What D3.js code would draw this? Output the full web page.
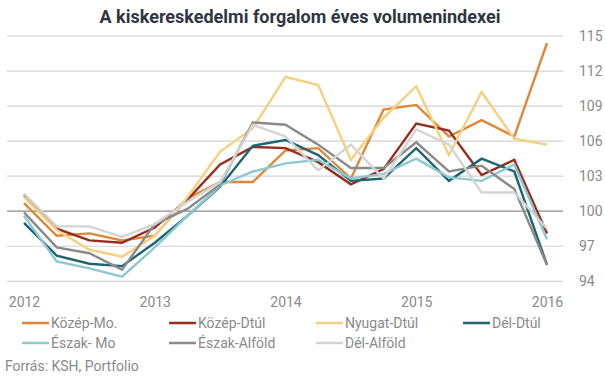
<!DOCTYPE html>
<html><head><meta charset="utf-8">
<script src="https://cdn.jsdelivr.net/npm/d3@7"></script>
<style>
body{margin:0;background:#fff;}
svg text{font-family:Roboto,"Noto Sans",sans-serif;}
</style></head>
<body><svg id="c" width="605" height="378"></svg>
<script>
const periods = ["2012Q1","2012Q2","2012Q3","2012Q4","2013Q1","2013Q2","2013Q3","2013Q4","2014Q1","2014Q2","2014Q3","2014Q4","2015Q1","2015Q2","2015Q3","2015Q4","2016Q1"];
const yearLabels = ["2012","2013","2014","2015","2016"];
const yTicks = [94,97,100,103,106,109,112,115];
const seriesNames = ["Közép-Mo.","Közép-Dtúl","Nyugat-Dtúl","Dél-Dtúl","Észak- Mo","Észak-Alföld","Dél-Alföld"];
const seriesColors = ["#e0883a","#962d1f","#f6d081","#1f6571","#8ec8d1","#8a8a8a","#d4d4d4"];
const kozepMo    = [100.7,97.9,98.1,97.5,97.9,101.1,102.5,102.5,105.2,105.4,102.8,108.7,109.1,106.4,107.8,106.4,114.4];
const kozepDtul  = [101.4,98.5,97.5,97.3,98.6,101.0,104.0,105.5,105.4,104.2,102.3,103.6,107.5,106.9,103.1,104.4,98.1];
const nyugatDtul = [101.2,98.4,96.7,96.1,97.9,101.2,105.1,107.1,111.5,110.8,104.4,108.0,110.7,104.8,110.2,106.2,105.7];
const delDtul    = [99.0,96.2,95.5,95.3,97.3,99.6,102.1,105.6,106.1,104.8,102.6,102.8,105.4,102.6,104.5,103.4,95.4];
const eszakMo    = [99.6,95.7,95.1,94.4,96.9,99.6,102.2,103.4,104.1,104.4,102.8,103.2,104.5,102.9,102.6,104.0,97.6];
const eszakAlfold= [99.9,96.9,96.4,95.0,98.9,100.2,102.3,107.6,107.4,105.7,103.7,103.7,105.9,103.4,103.9,101.9,95.4];
const delAlfold  = [101.5,98.7,98.7,97.8,98.9,100.8,102.5,107.4,106.4,103.5,105.7,102.8,107.0,105.7,101.6,101.6,98.5];
const seriesValues = [kozepMo,kozepDtul,nyugatDtul,delDtul,eszakMo,eszakAlfold,delAlfold];

const svg = d3.select("#c");
const x = d3.scalePoint().domain(periods).range([24,547]);
const y = d3.scaleLinear().domain([94,115]).range([281.3,36]);

svg.append("text").attr("x",300).attr("y",23).attr("text-anchor","middle")
  .attr("font-size",18).attr("font-weight",700).attr("fill","#2f3541")
  .text("A kiskereskedelmi forgalom éves volumenindexei");

// grid
svg.append("g").selectAll("line").data(yTicks).join("line")
  .attr("x1",7).attr("x2",563).attr("y1",d=>y(d)).attr("y2",d=>y(d))
  .attr("stroke",d=>d===100?"#8a8a8a":"#d2d2d2").attr("stroke-width",1.2);

// y axis on right
const yAxis = d3.axisRight(y).tickValues(yTicks).tickSize(0).tickPadding(0);
const gy = svg.append("g").attr("transform","translate(579,0)").call(yAxis);
gy.select(".domain").remove();
gy.selectAll("text").attr("font-size",14).attr("fill","#8a8a8a").attr("font-family","Roboto");

// x axis
const yearTickPeriods = yearLabels.map(yl=>yl+"Q1");
const xAxis = d3.axisBottom(x).tickValues(yearTickPeriods).tickSize(0).tickPadding(0).tickFormat(d=>d.slice(0,4));
const gx = svg.append("g").attr("transform","translate(0,297)").call(xAxis);
gx.select(".domain").remove();
gx.selectAll("text").attr("font-size",14).attr("fill","#8a8a8a").attr("font-family","Roboto");

// lines
const line = d3.line().x((d,i)=>x(periods[i])).y(d=>y(d));
svg.append("g").selectAll("path").data(seriesValues).join("path")
  .attr("d",line).attr("fill","none")
  .attr("stroke",(d,i)=>seriesColors[i]).attr("stroke-width",2.4)
  .attr("stroke-linejoin","miter");

// legend
const legX = [22,169,316,463];
const lg = svg.append("g").selectAll("g").data(seriesNames).join("g")
  .attr("transform",(d,i)=>`translate(${legX[i%4]},${i<4?323:343})`);
lg.append("line").attr("x1",0).attr("x2",27).attr("y1",0).attr("y2",0)
  .attr("stroke",(d,i)=>seriesColors[i]).attr("stroke-width",2.5);
lg.append("text").attr("x",29).attr("y",0).attr("dy","0.35em")
  .attr("font-size",14).attr("fill","#8a8a8a").text(d=>d);

svg.append("text").attr("x",5).attr("y",366).attr("dy","0.35em")
  .attr("font-size",14).attr("fill","#8a8a8a").text("Forrás: KSH, Portfolio");
</script></body></html>
